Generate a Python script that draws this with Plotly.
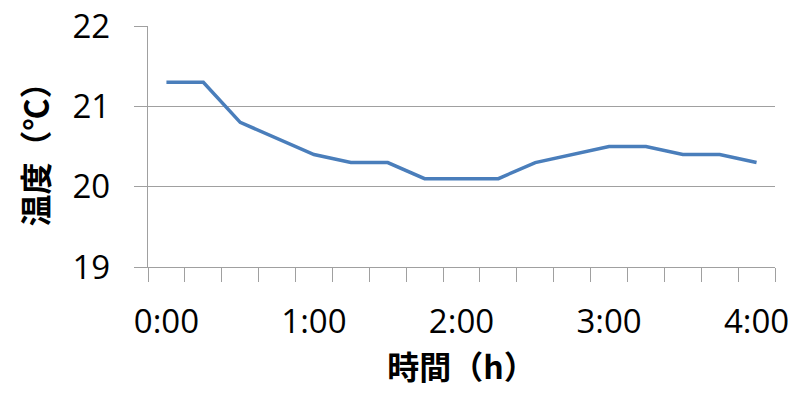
import plotly.graph_objects as go

times = ["0:00", "0:15", "0:30", "0:45", "1:00", "1:15", "1:30", "1:45", "2:00",
         "2:15", "2:30", "2:45", "3:00", "3:15", "3:30", "3:45", "4:00"]
temps = [21.3, 21.3, 20.8, 20.6, 20.4, 20.3, 20.3, 20.1, 20.1,
         20.1, 20.3, 20.4, 20.5, 20.5, 20.4, 20.4, 20.3]
label_times = ["0:00", "1:00", "2:00", "3:00", "4:00"]
y_ticks = [19, 20, 21, 22]

x_idx = list(range(len(times)))
label_pos = [times.index(t) for t in label_times]

grid = "#a0a0a0"
fig = go.Figure()
fig.add_trace(go.Scatter(x=x_idx, y=temps, mode="lines",
                         line=dict(color="#4a7ebb", width=3.5), hoverinfo="skip"))

# the page body has an 8px margin on every side, so the figure is sized to fit
# inside the 796x396 window without scrollbars
fig.update_layout(
    width=780, height=380,
    margin=dict(l=140, r=13, t=18, b=121),
    plot_bgcolor="white", paper_bgcolor="white",
    showlegend=False,
    font=dict(family="Open Sans", size=33, color="#000000"),
)
fig.update_xaxes(
    automargin=False, ticklabeloverflow="allow",
    range=[-0.5, len(times) - 0.5],
    tickvals=label_pos, ticktext=label_times,
    ticks="outside", ticklen=25, tickcolor="rgba(0,0,0,0)",
    minor=dict(ticks="outside", tick0=-0.5, dtick=1, ticklen=14,
               tickcolor=grid, tickwidth=1.3, showgrid=False),
    showgrid=False, zeroline=False,
    showline=True, linecolor=grid, linewidth=1.3,
    title=dict(text="時間（h）", standoff=18,
               font=dict(family="Noto Sans CJK JP", size=32, weight="bold")),
)
fig.update_yaxes(
    automargin=False, ticklabeloverflow="allow",
    range=[19, 22], tickvals=y_ticks,
    ticks="outside", ticklen=13, tickcolor=grid, tickwidth=1.3,
    ticklabelstandoff=17,
    showgrid=True, gridcolor=grid, gridwidth=1.3, zeroline=False,
    showline=True, linecolor=grid, linewidth=1.3,
    title=dict(text="温度（℃）", standoff=14,
               font=dict(family="Noto Sans CJK JP", size=32, weight="bold")),
)
fig.write_html("out.html")
